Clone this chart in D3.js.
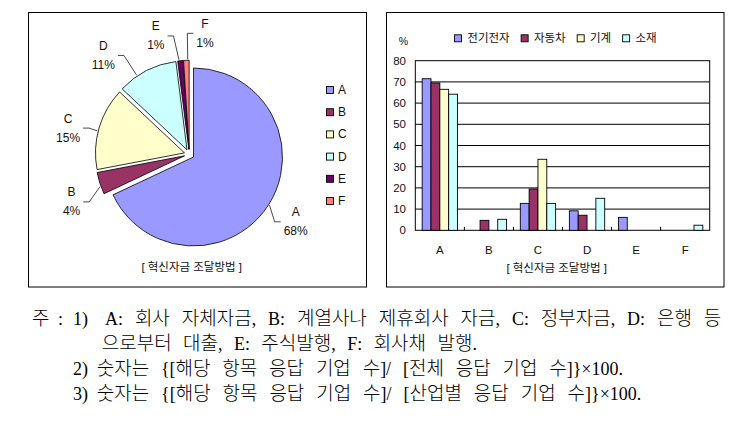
<!DOCTYPE html>
<html><head><meta charset="utf-8">
<script src="https://cdn.jsdelivr.net/npm/d3@7"></script>
<style>body{margin:0;background:#fff}svg{display:block}</style>
</head><body>
<svg id="c" width="746" height="446"></svg>
<script>
// ---------- data ----------
const pieCats = ["A", "B", "C", "D", "E", "F"];
const pieValues = [68, 4, 15, 11, 1, 1];
const barCats = ["A", "B", "C", "D", "E", "F"];
const seriesNames = ["전기전자", "자동차", "기계", "소재"];
const elecValues = [71.5, 0, 12.7, 9.2, 6.1, 0];
const autoValues = [69.5, 4.7, 19.5, 7.1, 0, 0];
const machValues = [66.5, 0, 33.5, 0, 0, 0];
const matValues = [64.2, 5.2, 12.7, 15.1, 0, 2.4];
const yTicks = [0, 10, 20, 30, 40, 50, 60, 70, 80];
const chartTitle = "[ 혁신자금 조달방법 ]";
const notes = [
  ["주 :", "1)", "A: 회사 자체자금, B: 계열사나 제휴회사 자금, C: 정부자금, D: 은행 등"],
  [null, null, "으로부터 대출, E: 주식발행, F: 회사채 발행."],
  [null, "2)", "숫자는 {[해당 항목 응답 기업 수]/ [전체 응답 기업 수]}×100."],
  [null, "3)", "숫자는 {[해당 항목 응답 기업 수]/ [산업별 응답 기업 수]}×100."]
];

// ---------- style / layout ----------
const pieColors = ["#9999ff", "#993366", "#ffffcc", "#ccffff", "#660066", "#ff8080"];
const seriesColors = ["#9999ff", "#993366", "#ffffcc", "#ccffff"];
const sans = "'Liberation Sans', Arial, 'Noto Sans CJK KR', sans-serif";
const serif = "'Liberation Serif', 'Times New Roman', 'Noto Sans CJK KR', serif";
const labelNudgeDeg = [0, -4, -4, -14, -10.4, 9.2];
const labelDist = [126, 127, 124, 131, 123, 122];

const svg = d3.select("#c");
svg.append("rect").attr("width", 746).attr("height", 446).attr("fill", "#fff");

// ---------- panels ----------
svg.append("rect").attr("x", 28.5).attr("y", 12.5).attr("width", 338).attr("height", 274.5)
  .attr("fill", "none").attr("stroke", "#000").attr("stroke-width", 1);
svg.append("rect").attr("x", 386.5).attr("y", 12.5).attr("width", 337.5).attr("height", 274.5)
  .attr("fill", "none").attr("stroke", "#000").attr("stroke-width", 1);

// ---------- pie ----------
const cx = 189.3, cy = 154.3, R = 89, EXP = 5;
const pieG = svg.append("g");
const arcs = d3.pie().sort(null).value(d => d)(pieValues);
const arcGen = d3.arc().innerRadius(0).outerRadius(R);
const dir = a => [Math.sin(a), -Math.cos(a)];

arcs.forEach((s, i) => {
  const mid = (s.startAngle + s.endAngle) / 2;
  const [dx, dy] = dir(mid);
  s.ox = cx + EXP * dx; s.oy = cy + EXP * dy; s.mid = mid;
  pieG.append("path").attr("d", arcGen(s))
    .attr("transform", `translate(${s.ox},${s.oy})`)
    .attr("fill", pieColors[i]).attr("stroke", "#000").attr("stroke-width", 0.8)
    .attr("stroke-linejoin", "round");
});

arcs.forEach((s, i) => {
  const la = s.mid + labelNudgeDeg[i] * Math.PI / 180;
  const [ldx, ldy] = dir(la);
  const lx = cx + labelDist[i] * ldx, ly = cy + labelDist[i] * ldy;
  const g = pieG.append("g").attr("font-family", sans).attr("font-size", 12).attr("fill", "#111");
  const t1 = g.append("text").attr("x", lx).attr("y", ly - 9.5).attr("text-anchor", "middle")
    .attr("dominant-baseline", "central").text(pieCats[i]);
  const t2 = g.append("text").attr("x", lx).attr("y", ly + 9.5).attr("text-anchor", "middle")
    .attr("dominant-baseline", "central").text(d3.format(".0f")(pieValues[i]) + "%");
  const halfW = Math.max(t1.node().getComputedTextLength(), t2.node().getComputedTextLength()) / 2;
  const clamped = Math.max(s.startAngle, Math.min(s.endAngle, la));
  const sa = (s.mid + clamped) / 2;
  const [sdx, sdy] = dir(sa);
  const sx = s.ox + (R + 1) * sdx, sy = s.oy + (R + 1) * sdy;
  const side = lx > sx ? -1 : 1;
  const ex = lx + side * (halfW + 3), ey = ly;
  const elx = ex + side * 6;
  pieG.append("path").attr("d", `M${sx},${sy}L${elx},${ey}L${ex},${ey}`)
    .attr("fill", "none").attr("stroke", "#333").attr("stroke-width", 0.9);
});

const pl = svg.append("g").attr("font-family", sans).attr("font-size", 12);
pieCats.forEach((c, i) => {
  const y = 90 + i * 22.2;
  pl.append("rect").attr("x", 326.5).attr("y", y - 3.5).attr("width", 7).attr("height", 7)
    .attr("fill", pieColors[i]).attr("stroke", "#000").attr("stroke-width", 0.9);
  pl.append("text").attr("x", 338).attr("y", y).attr("dominant-baseline", "central").attr("fill", "#111").text(c);
});
svg.append("text").attr("x", 191.7).attr("y", 266.7).attr("text-anchor", "middle")
  .attr("dominant-baseline", "central").attr("font-family", sans).attr("font-size", 11.5)
  .attr("fill", "#111").text(chartTitle);

// ---------- bar chart ----------
const L = 415.3, Rt = 709.7, T = 60.7, B = 230.3;
const y = d3.scaleLinear().domain([0, 80]).range([B, T]);
const x0 = d3.scaleBand().domain(barCats).range([L, Rt]).paddingInner(0.28).paddingOuter(0.14);
const x1 = d3.scaleBand().domain(seriesNames).range([0, x0.bandwidth()]);
const series = [elecValues, autoValues, machValues, matValues];
const bg = svg.append("g");

yTicks.filter(t => t > 0 && t < 80).forEach(t => {
  bg.append("line").attr("x1", L).attr("x2", Rt).attr("y1", y(t)).attr("y2", y(t))
    .attr("stroke", "#000").attr("stroke-width", 1);
});
bg.append("rect").attr("x", L).attr("y", y(80)).attr("width", Rt - L).attr("height", B - y(80))
  .attr("fill", "none").attr("stroke", "#000").attr("stroke-width", 1);

series.forEach((vals, si) => {
  vals.forEach((v, ci) => {
    if (v <= 0) return;
    bg.append("rect").attr("x", x0(barCats[ci]) + x1(seriesNames[si])).attr("y", y(v))
      .attr("width", x1.bandwidth()).attr("height", y(0) - y(v))
      .attr("fill", seriesColors[si]).attr("stroke", "#000").attr("stroke-width", 0.9);
  });
});

barCats.slice(1).forEach((c, i) => {
  const xb = L + (i + 1) * x0.step();
  bg.append("line").attr("x1", xb).attr("x2", xb).attr("y1", B).attr("y2", B - 3.5)
    .attr("stroke", "#000").attr("stroke-width", 1);
});

const tg = svg.append("g").attr("font-family", sans).attr("font-size", 11.5).attr("fill", "#111");
yTicks.forEach(t => {
  tg.append("text").attr("x", 406).attr("y", y(t)).attr("text-anchor", "end")
    .attr("dominant-baseline", "central").text(t);
});
tg.append("text").attr("x", 403.3).attr("y", 40.7).attr("text-anchor", "middle")
  .attr("dominant-baseline", "central").attr("font-size", 10.5).text("%");

barCats.forEach(c => {
  tg.append("text").attr("x", x0(c) + x0.bandwidth() / 2).attr("y", 250).attr("text-anchor", "middle")
    .attr("dominant-baseline", "central").text(c);
});
tg.append("text").attr("x", 556.7).attr("y", 268.3).attr("text-anchor", "middle")
  .attr("dominant-baseline", "central").text(chartTitle);

let lxp = 454.5;
seriesNames.forEach((n, i) => {
  tg.append("rect").attr("x", lxp).attr("y", 38.3 - 3.5).attr("width", 7).attr("height", 7)
    .attr("fill", seriesColors[i]).attr("stroke", "#000").attr("stroke-width", 0.9);
  const t = tg.append("text").attr("x", lxp + 12.8).attr("y", 38.3).attr("dominant-baseline", "central").text(n);
  lxp = lxp + 12.8 + t.node().getComputedTextLength() + 11.5;
});

// ---------- notes (justified word by word) ----------
const ng = svg.append("g").attr("font-family", serif).attr("font-size", 18).attr("fill", "#000");
const baselines = [324.5, 349.5, 374.5, 399.5];
const mainX = [105, 101.7, 96.7, 96.7];
const mainEnd = [721.3, 477, 623, 641.3];
const HANGUL = /([\uAC00-\uD7A3]+)/;
function wordText(word, yb) {
  const t = ng.append("text").attr("x", 0).attr("y", yb);
  word.split(HANGUL).filter(p => p.length).forEach(p => {
    const sp = t.append("tspan").text(p);
    if (/[\uAC00-\uD7A3]/.test(p)) {
      sp.attr("font-family", "'Noto Sans CJK KR', sans-serif").attr("font-size", 19).attr("font-weight", 300);
    }
  });
  return t;
}
function fitText(str, x, yb, target) {
  const words = str.split(" ");
  const els = words.map(w => wordText(w, yb));
  const widths = els.map(e => e.node().getComputedTextLength());
  const total = d3.sum(widths);
  if (els.length === 1) {
    els[0].attr("x", x).attr("textLength", target).attr("lengthAdjust", "spacingAndGlyphs");
    return;
  }
  const gap = (target - total) / (els.length - 1);
  let cur = x;
  els.forEach((e, k) => { e.attr("x", cur); cur += widths[k] + gap; });
}
notes.forEach((row, i) => {
  if (row[0]) fitText(row[0], 32, baselines[i], 31);
  if (row[1]) fitText(row[1], 73, baselines[i], 15);
  fitText(row[2], mainX[i], baselines[i], mainEnd[i] - mainX[i]);
});
</script>
</body></html>
